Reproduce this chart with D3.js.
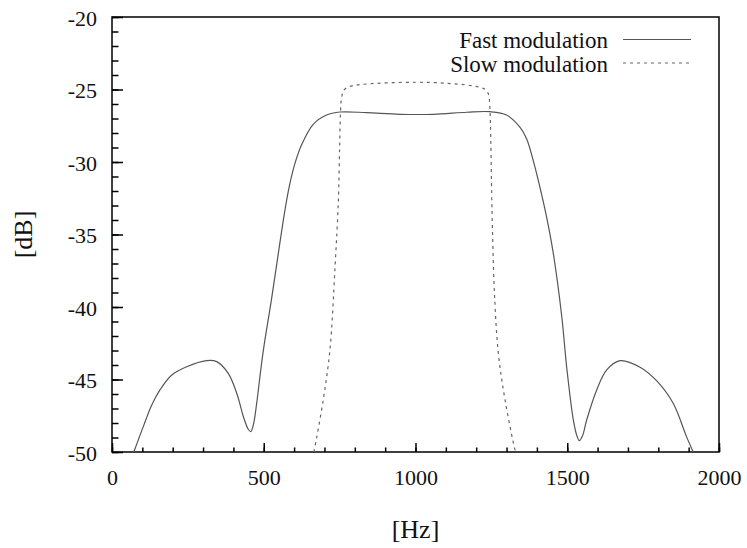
<!DOCTYPE html>
<html>
<head>
<meta charset="utf-8">
<script src="https://cdn.jsdelivr.net/npm/d3@7"></script>
<style>
  body { margin: 0; background: #fff; }
  text { font-family: "Liberation Serif", "Times New Roman", serif; fill: #111; }
</style>
</head>
<body>
<div id="chart"></div>
<script>
// values
const fastFreq = [72, 103, 131, 158, 197, 246, 312, 345, 383, 411, 433, 448, 457, 466, 477, 488, 500, 526, 553, 570, 585, 600, 625, 663, 707, 751, 839, 949, 1059, 1169, 1245, 1300, 1344, 1366, 1388, 1405, 1430, 1454, 1482, 1498, 1520, 1532, 1540, 1550, 1564, 1597, 1630, 1674, 1740, 1795, 1849, 1893, 1915];
const fastDb = [-50, -48.25, -46.76, -45.72, -44.69, -44.12, -43.7, -43.77, -44.58, -45.95, -47.57, -48.4, -48.6, -48.1, -46.6, -44.7, -42.8, -39.4, -35.6, -33.3, -31.6, -30.3, -28.8, -27.4, -26.76, -26.55, -26.6, -26.71, -26.71, -26.57, -26.53, -26.76, -27.6, -28.4, -29.9, -31.3, -33.6, -36.3, -40.67, -44.12, -47.79, -48.9, -49.22, -48.9, -47.79, -45.72, -44.34, -43.7, -44.15, -45.1, -46.64, -48.94, -50];

const slowFreq = [665, 669, 696, 718, 735, 746, 750, 753, 757, 766, 790, 839, 993, 1103, 1191, 1229, 1240, 1245, 1248, 1251, 1254, 1260, 1273, 1295, 1326, 1330];
const slowDb = [-50, -49.6, -46.4, -42.97, -37.2, -32.6, -29, -26.5, -25.5, -25.0, -24.75, -24.62, -24.5, -24.57, -24.76, -24.99, -25.3, -26.2, -28.5, -32.16, -35, -39, -43.2, -46.4, -49.7, -50];

const xTicks = [0, 500, 1000, 1500, 2000];
const yTicks = [-20, -25, -30, -35, -40, -45, -50];
const seriesNames = ['Fast modulation', 'Slow modulation'];

const width = 747;
const height = 548;
const plot = { left: 112, right: 719, top: 17, bottom: 452 };

const svg = d3.select('#chart')
  .append('svg')
  .attr('width', width)
  .attr('height', height);

const x = d3.scaleLinear().domain([0, 2000]).range([plot.left, plot.right]);
const y = d3.scaleLinear().domain([-50, -20]).range([plot.bottom, plot.top]);

// minor ticks
svg.append('g')
  .attr('transform', `translate(0,${plot.bottom})`)
  .call(d3.axisBottom(x).tickValues(d3.range(0, 2001, 100)).tickSize(-4.5).tickFormat(''))
  .call(g => g.select('.domain').remove())
  .call(g => g.selectAll('line').attr('stroke-width', 1.5));
svg.append('g')
  .attr('transform', `translate(${plot.left},0)`)
  .call(d3.axisLeft(y).tickValues(d3.range(-50, -19, 1)).tickSize(-6.5).tickFormat(''))
  .call(g => g.select('.domain').remove())
  .call(g => g.selectAll('line').attr('stroke-width', 1.5));

// major ticks and labels (plain hyphen minus, no thousands separator)
svg.append('g')
  .attr('transform', `translate(0,${plot.bottom})`)
  .call(d3.axisBottom(x).tickValues(xTicks).tickSize(-9).tickPadding(17).tickFormat(d => String(d)))
  .call(g => g.select('.domain').remove())
  .call(g => g.selectAll('line').attr('stroke-width', 1.5))
  .call(g => g.selectAll('text').attr('font-size', 22).attr('font-family', null));
svg.append('g')
  .attr('transform', `translate(${plot.left},0)`)
  .call(d3.axisLeft(y).tickValues(yTicks).tickSize(-11).tickPadding(15).tickFormat(d => String(d)))
  .call(g => g.select('.domain').remove())
  .call(g => g.selectAll('line').attr('stroke-width', 1.5))
  .call(g => g.selectAll('text').attr('font-size', 22).attr('font-family', null).attr('dy', '0.38em'));

// frame
svg.append('rect')
  .attr('x', plot.left)
  .attr('y', plot.top)
  .attr('width', plot.right - plot.left)
  .attr('height', plot.bottom - plot.top)
  .attr('fill', 'none')
  .attr('stroke', '#000')
  .attr('stroke-width', 1.5);

svg.append('clipPath').attr('id', 'clip')
  .append('rect')
  .attr('x', plot.left).attr('y', plot.top)
  .attr('width', plot.right - plot.left).attr('height', plot.bottom - plot.top);

const line = d3.line()
  .x(d => x(d[0]))
  .y(d => y(d[1]))
  .curve(d3.curveCatmullRom.alpha(0.5));

const fast = fastFreq.map((f, i) => [f, fastDb[i]]);
const slow = slowFreq.map((f, i) => [f, slowDb[i]]);

svg.append('path')
  .datum(fast)
  .attr('clip-path', 'url(#clip)')
  .attr('d', line)
  .attr('fill', 'none')
  .attr('stroke', '#555')
  .attr('stroke-width', 1.2);

svg.append('path')
  .datum(slow)
  .attr('clip-path', 'url(#clip)')
  .attr('d', line)
  .attr('fill', 'none')
  .attr('stroke', '#666')
  .attr('stroke-width', 1.2)
  .attr('stroke-dasharray', '3,4');

// legend
const legend = svg.append('g');
legend.append('text')
  .attr('x', 608).attr('y', 47.5)
  .attr('text-anchor', 'end')
  .attr('font-size', 23)
  .text(seriesNames[0]);
legend.append('line')
  .attr('x1', 623).attr('x2', 691).attr('y1', 39.5).attr('y2', 39.5)
  .attr('stroke', '#555').attr('stroke-width', 1.2);
legend.append('text')
  .attr('x', 608).attr('y', 71.5)
  .attr('text-anchor', 'end')
  .attr('font-size', 23)
  .text(seriesNames[1]);
legend.append('line')
  .attr('x1', 623).attr('x2', 689).attr('y1', 63).attr('y2', 63)
  .attr('stroke', '#666').attr('stroke-width', 1.2)
  .attr('stroke-dasharray', '3,4');

// axis titles
svg.append('text')
  .attr('transform', `translate(32,${(plot.top + plot.bottom) / 2}) rotate(-90)`)
  .attr('text-anchor', 'middle')
  .attr('font-size', 26)
  .text('[dB]');
svg.append('text')
  .attr('x', (plot.left + plot.right) / 2)
  .attr('y', 538)
  .attr('text-anchor', 'middle')
  .attr('font-size', 26)
  .text('[Hz]');
</script>
</body>
</html>
